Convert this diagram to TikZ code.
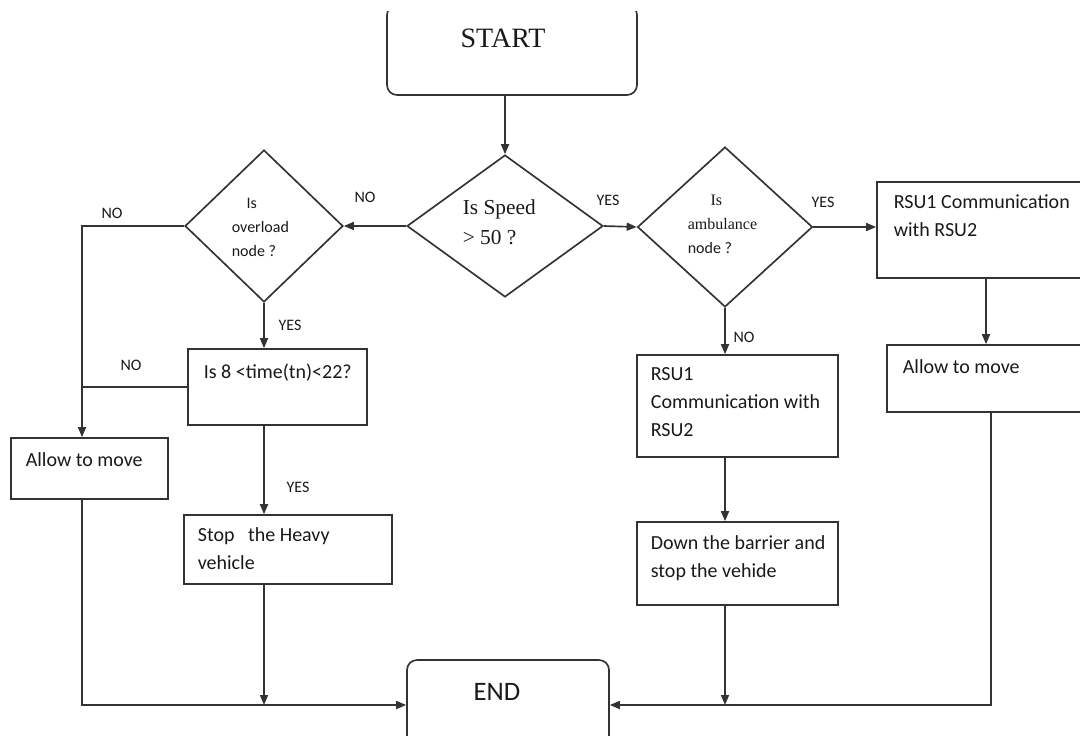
\documentclass[tikz,border=0pt]{standalone}
\usepackage{fontspec}
\setmainfont{Liberation Serif}
\newfontfamily\calib{Carlito}
\usetikzlibrary{shapes.geometric,arrows.meta}

\tikzset{every picture/.style={line width=1.25pt}}
\tikzset{
  termbox/.style={draw=black!80, rectangle, rounded corners=7.5pt, inner sep=0pt},
  procbox/.style={draw=black!80, rectangle, inner sep=0pt},
  decide/.style={draw=black!80, diamond, aspect=1, inner sep=0pt},
  boxtxt/.style={anchor=north west, inner sep=0pt, align=left, text=black!90, font=\calib\fontsize{15}{21}\selectfont},
  yesno/.style={inner sep=0pt, text=black!90, font=\calib\fontsize{12}{14}\selectfont},
  arr/.style={draw=black!80, -{Triangle[length=7.5pt,width=6pt]}},
  line/.style={draw=black!80}
}

\begin{document}
\begin{tikzpicture}[x=0.75pt,y=0.75pt,yscale=-1]
\useasboundingbox (0,0) rectangle (1080,735);
\clip (0,12) rectangle (1080,735);

%Rounded Rect
\node[termbox, minimum width=187.5pt, minimum height=67.5pt] (start) at (512,50) {};
\node[termbox, minimum width=151.5pt, minimum height=67.5pt] (end) at (508,705) {};
%Flowchart: Decision
\node[decide, minimum width=147pt, minimum height=106.5pt] (speed) at (505,226) {};
\node[decide, minimum width=118.5pt, minimum height=114pt] (overload) at (264,226) {};
\node[decide, minimum width=131.25pt, minimum height=120pt] (amb) at (725,227) {};
%Shape: Rectangle
\node[procbox, minimum width=134.25pt, minimum height=57pt] (time) at (277.5,387) {};
\node[procbox, minimum width=117.75pt, minimum height=45.75pt] (allowL) at (89.5,468.5) {};
\node[procbox, minimum width=156pt, minimum height=51.75pt] (stop) at (288,549.5) {};
\node[procbox, minimum width=150.75pt, minimum height=76.5pt] (rsuM) at (737.5,406) {};
\node[procbox, minimum width=150.75pt, minimum height=62.25pt] (barrier) at (737.5,563.5) {};
\node[procbox, minimum width=163.5pt, minimum height=72pt] (rsuR) at (986,230) {};
\node[procbox, minimum width=156pt, minimum height=50.25pt] (allowR) at (991,378.5) {};

\coordinate (noL) at (82,226);

%Straight Lines
\draw[arr] (speed.north |- start.south) -- (speed.north);
\draw[arr] (speed.west) -- (overload.east);
\draw[arr] (speed.east) -- (amb.west);
\draw[arr] (amb.east) -- (amb.east -| rsuR.west);
\draw[arr] (rsuR.south) -- (rsuR.south |- allowR.north);
\draw[arr] (allowR.south) -- (allowR.south |- end.east) -- (end.east);
\draw[arr] (amb.south) -- (amb.south |- rsuM.north);
\draw[arr] (amb.south |- rsuM.south) -- (amb.south |- barrier.north);
\draw[arr] (amb.south |- barrier.south) -- (amb.south |- end.east);
\draw[arr] (overload.west) -- (noL) -- (noL |- allowL.north);
\draw[line] (time.west) -- (time.west -| noL);
\draw[arr] (overload.south) -- (overload.south |- time.north);
\draw[arr] (overload.south |- time.south) -- (overload.south |- stop.north);
\draw[arr] (noL |- allowL.south) -- (noL |- end.west) -- (end.west);
\draw[arr] (overload.south |- stop.south) -- (overload.south |- end.west);

% Text Node
\node[inner sep=0pt, text=black!90, font=\fontsize{21}{24}\selectfont] (starttxt) at (503,38) {START};
% Text Node
\node[inner sep=0pt, text=black!90, font=\calib\fontsize{20}{24}\selectfont] (endtxt) at (497,692) {END};
% Text Node
\node[anchor=north west, inner sep=0pt, align=left, text=black!90, font=\fontsize{16}{22.5}\selectfont] (speedtxt) at (462,199) {Is Speed\\> 50 ?};
% Text Node
\node[anchor=north west, inner sep=0pt, align=left, text=black!90, font=\calib\fontsize{12}{18}\selectfont] (overloadtxt) at (231,197) {\hspace{11pt}Is\\overload\\node ?};
% Text Node
\node[anchor=north west, inner sep=0pt, align=left, text=black!90, font=\fontsize{12}{18}\selectfont] (ambtxt) at (687,194) {\hspace{17pt}Is\\ambulance\\{\calib node ?}};
% Text Node
\node[boxtxt] (timetxt) at (203,363) {Is 8 <time(tn)<22?};
\node[boxtxt] (allowLtxt) at (25,452) {Allow to move};
\node[boxtxt] (stoptxt) at (197,527) {Stop\ \ \ the Heavy\\vehicle};
\node[boxtxt] (rsuMtxt) at (650,367) {RSU1\\Communication with\\RSU2};
\node[boxtxt] (barriertxt) at (650,535) {Down the barrier and\\stop the vehide};
\node[boxtxt] (rsuRtxt) at (893,194) {RSU1 Communication\\with RSU2};
\node[boxtxt] (allowRtxt) at (902,359) {Allow to move};
% Text Node
\node[yesno] (no1) at (365,197) {NO};
\node[yesno] (yes1) at (608,200) {YES};
\node[yesno] (yes2) at (823,202) {YES};
\node[yesno] (no2) at (744,337) {NO};
\node[yesno] (no3) at (112,213) {NO};
\node[yesno] (yes3) at (290,325) {YES};
\node[yesno] (no4) at (131,365) {NO};
\node[yesno] (yes4) at (298,487) {YES};

\end{tikzpicture}
\end{document}
